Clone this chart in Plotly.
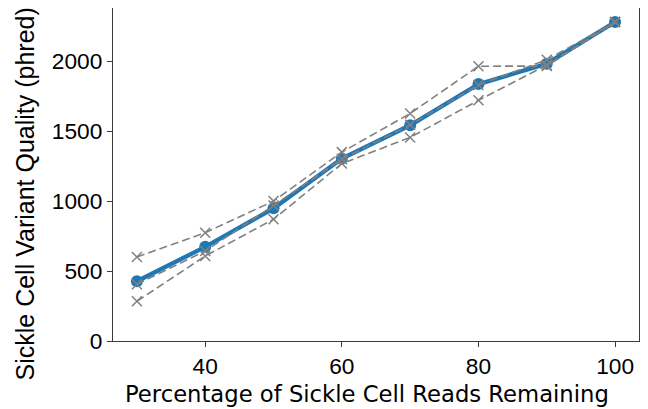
import plotly.graph_objects as go

percent = [30, 40, 50, 60, 70, 80, 90, 100]
mean_quality = [427, 673, 948, 1304, 1542, 1836, 1982, 2280]
rep1 = [600, 774, 1000, 1350, 1626, 1964, 1965, 2280]
rep2 = [405, 643, 968, 1300, 1545, 1830, 2010, 2280]
rep3 = [284, 607, 870, 1268, 1455, 1720, 1972, 2280]

x_ticks = [40, 60, 80, 100]
y_ticks = [0, 500, 1000, 1500, 2000]
x_title = "Percentage of Sickle Cell Reads Remaining"
y_title = "Sickle Cell Variant Quality (phred)"

fig = go.Figure()
fig.add_trace(go.Scatter(
    x=percent, y=mean_quality, mode="lines+markers",
    line=dict(color="#1f77b4", width=4.3),
    marker=dict(symbol="circle", size=12, color="#1f77b4"),
    showlegend=False))
for rep in (rep1, rep2, rep3):
    fig.add_trace(go.Scatter(
        x=percent, y=rep, mode="lines+markers",
        line=dict(color="#808080", width=1.6, dash="8px,4px"),
        marker=dict(symbol="x-thin", size=10, color="#808080",
                    line=dict(color="#808080", width=1.5)),
        showlegend=False))

axis_common = dict(
    showline=True, mirror=True, linecolor="#3a3a3a", linewidth=1.3,
    ticks="outside", ticklen=5, tickwidth=1.2, tickcolor="#3a3a3a",
    showgrid=False, zeroline=False,
    tickfont=dict(family="Arial", size=22.7, color="black"),
)

fig.update_xaxes(range=[26.5, 103.5], tickvals=x_ticks, **axis_common)
fig.update_yaxes(range=[0, 2380], tickvals=y_ticks, **axis_common)

fig.add_annotation(
    text=x_title, xref="paper", yref="paper", x=0.4838, y=-0.1595,
    xanchor="center", yanchor="middle", showarrow=False,
    font=dict(family="DejaVu Sans", size=22.7, color="black"))
fig.add_annotation(
    text=y_title, xref="paper", yref="paper", x=-0.1673, y=0.44,
    xanchor="center", yanchor="middle", textangle=-90, showarrow=False,
    font=dict(family="Arial", size=25, color="black"))

fig.update_layout(
    width=640, height=401,
    margin=dict(l=105, r=9, t=0, b=68, autoexpand=False),
    plot_bgcolor="white", paper_bgcolor="white",
)

fig.write_html("out.html")
